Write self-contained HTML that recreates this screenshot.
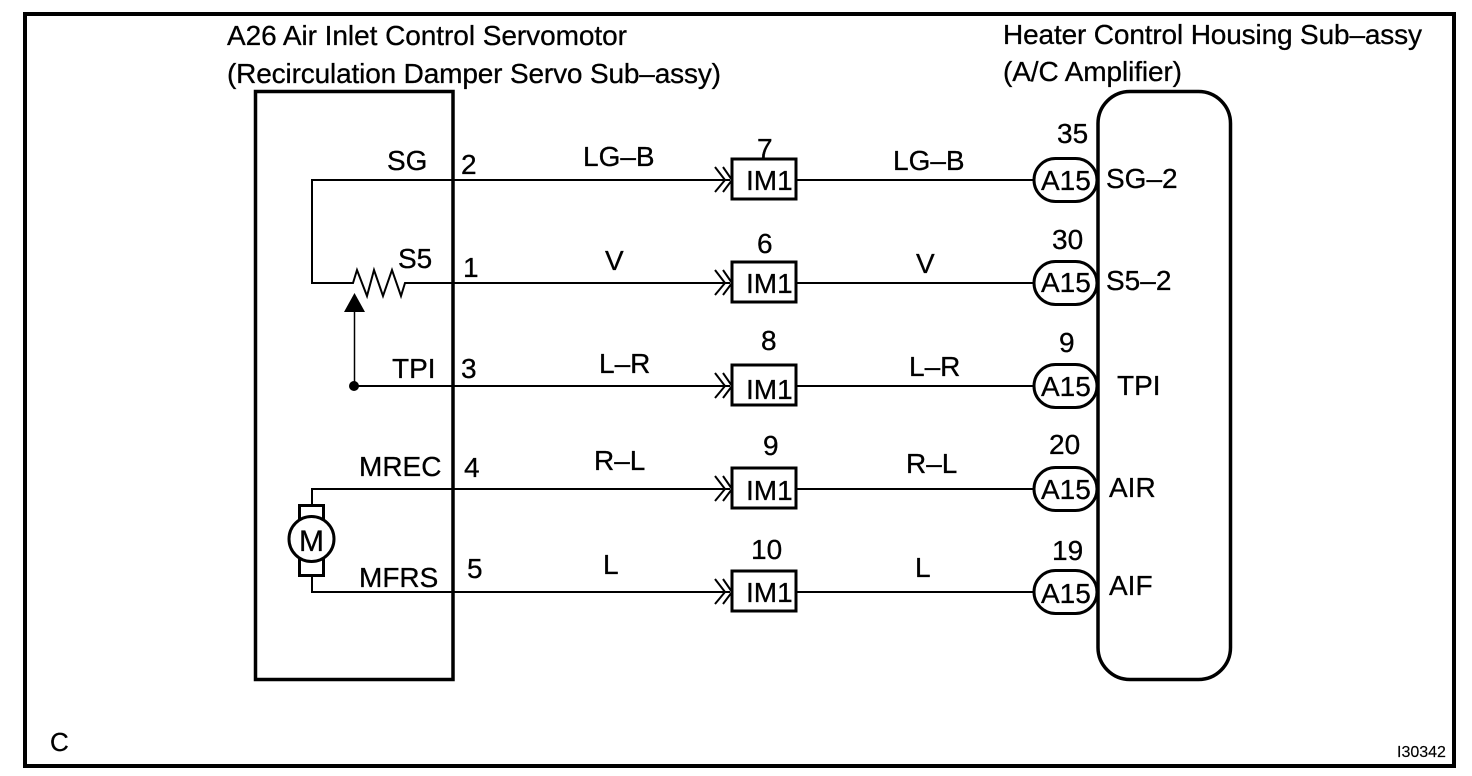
<!DOCTYPE html>
<html>
<head>
<meta charset="utf-8">
<style>
html,body{margin:0;padding:0;background:#fff;width:1472px;height:776px;overflow:hidden}
svg{display:block}
text{font-family:"Liberation Sans",Arial,sans-serif;font-size:28px;fill:#000;stroke:#000;stroke-width:.3px}
</style>
</head>
<body>
<svg width="1472" height="776" viewBox="0 0 1472 776" xmlns="http://www.w3.org/2000/svg">
<rect width="1472" height="776" fill="#fff"/>
<rect x="25" y="14" width="1429" height="752" fill="none" stroke="#000" stroke-width="4"/>

<text x="227" y="45" textLength="400">A26 Air Inlet Control Servomotor</text>
<text x="227" y="83" textLength="494">(Recirculation Damper Servo Sub–assy)</text>
<text x="1003" y="44" textLength="419">Heater Control Housing Sub–assy</text>
<text x="1003" y="81" textLength="179">(A/C Amplifier)</text>

<rect x="255.500" y="91.500" width="197.500" height="588" fill="none" stroke="#000" stroke-width="3.500"/>
<rect x="1098" y="91.500" width="132.500" height="588" rx="32" ry="32" fill="none" stroke="#000" stroke-width="3.500"/>

<g fill="none" stroke="#000" stroke-width="2">
<path d="M730 180H312V283H353L357 270L367 296L374 270L383 296L392 270L401 296L405 283H730"/>
<path d="M354 386H730"/>
<path d="M730 489H312V505"/>
<path d="M730 592H312V576"/>
<path d="M354.500 312V386" stroke-width="1.500"/>
<path d="M797 180H1034M797 283H1034M797 386H1034M797 489H1034M797 592H1034"/>
</g>
<polygon points="354.500,293 344,312 365,312" fill="#000"/>
<circle cx="354" cy="386" r="5" fill="#000"/>

<g fill="none" stroke="#000" stroke-width="3">
<rect x="299.500" y="505.500" width="24" height="20"/>
<rect x="299.500" y="555" width="24" height="20.500"/>
<circle cx="311.500" cy="539" r="22.500" fill="#fff"/>
</g>
<text x="299" y="551" style="font-size:30px">M</text>

<g>
<text x="387" y="170">SG</text>
<text x="398" y="268">S5</text>
<text x="392" y="378">TPI</text>
<text x="359" y="476">MREC</text>
<text x="359" y="587">MFRS</text>
<text x="461" y="174">2</text>
<text x="463" y="277">1</text>
<text x="461" y="378">3</text>
<text x="464" y="477">4</text>
<text x="467" y="578">5</text>
<text x="583" y="166">LG–B</text>
<text x="605" y="270">V</text>
<text x="599" y="373">L–R</text>
<text x="594" y="470">R–L</text>
<text x="603" y="574">L</text>
<text x="893" y="170">LG–B</text>
<text x="916" y="273">V</text>
<text x="909" y="376">L–R</text>
<text x="906" y="473">R–L</text>
<text x="915" y="577">L</text>
<text x="757" y="158">7</text>
<text x="757" y="253">6</text>
<text x="761" y="350">8</text>
<text x="763" y="455">9</text>
<text x="751" y="559">10</text>
<text x="1057" y="143">35</text>
<text x="1052" y="249">30</text>
<text x="1059" y="352">9</text>
<text x="1049" y="454">20</text>
<text x="1052" y="560">19</text>
<text x="1106" y="188">SG–2</text>
<text x="1106" y="290">S5–2</text>
<text x="1117" y="395">TPI</text>
<text x="1109" y="497">AIR</text>
<text x="1109" y="595">AIF</text>
</g>

<g fill="#fff" stroke="#000" stroke-width="3">
<rect x="732" y="159" width="64" height="40"/>
<rect x="732" y="262" width="64" height="40"/>
<rect x="732" y="365" width="64" height="40"/>
<rect x="732" y="468" width="64" height="40"/>
<rect x="732" y="571" width="64" height="40"/>
</g>
<g fill="none" stroke="#000" stroke-width="2">
<path d="M715 167L725 180L715 192M723 167L732 180L723 192"/>
<path d="M715 270L725 283L715 295M723 270L732 283L723 295"/>
<path d="M715 373L725 386L715 398M723 373L732 386L723 398"/>
<path d="M715 476L725 489L715 501M723 476L732 489L723 501"/>
<path d="M715 579L725 592L715 604M723 579L732 592L723 604"/>
</g>
<text x="746" y="190">IM1</text>
<text x="746" y="293">IM1</text>
<text x="746" y="399">IM1</text>
<text x="746" y="500">IM1</text>
<text x="746" y="602">IM1</text>

<g fill="#fff" stroke="#000" stroke-width="3">
<rect x="1034" y="158.500" width="63" height="43" rx="21.500"/>
<rect x="1034" y="261.500" width="63" height="43" rx="21.500"/>
<rect x="1034" y="364.500" width="63" height="43" rx="21.500"/>
<rect x="1034" y="467.500" width="63" height="43" rx="21.500"/>
<rect x="1034" y="570.500" width="63" height="43" rx="21.500"/>
</g>
<text x="1041" y="190">A15</text>
<text x="1041" y="292">A15</text>
<text x="1041" y="396">A15</text>
<text x="1041" y="499">A15</text>
<text x="1041" y="603">A15</text>

<text x="50" y="751" style="font-size:26px">C</text>
<text x="1397" y="757" style="font-size:16px;stroke-width:.15px">I30342</text>
</svg>
</body>
</html>
